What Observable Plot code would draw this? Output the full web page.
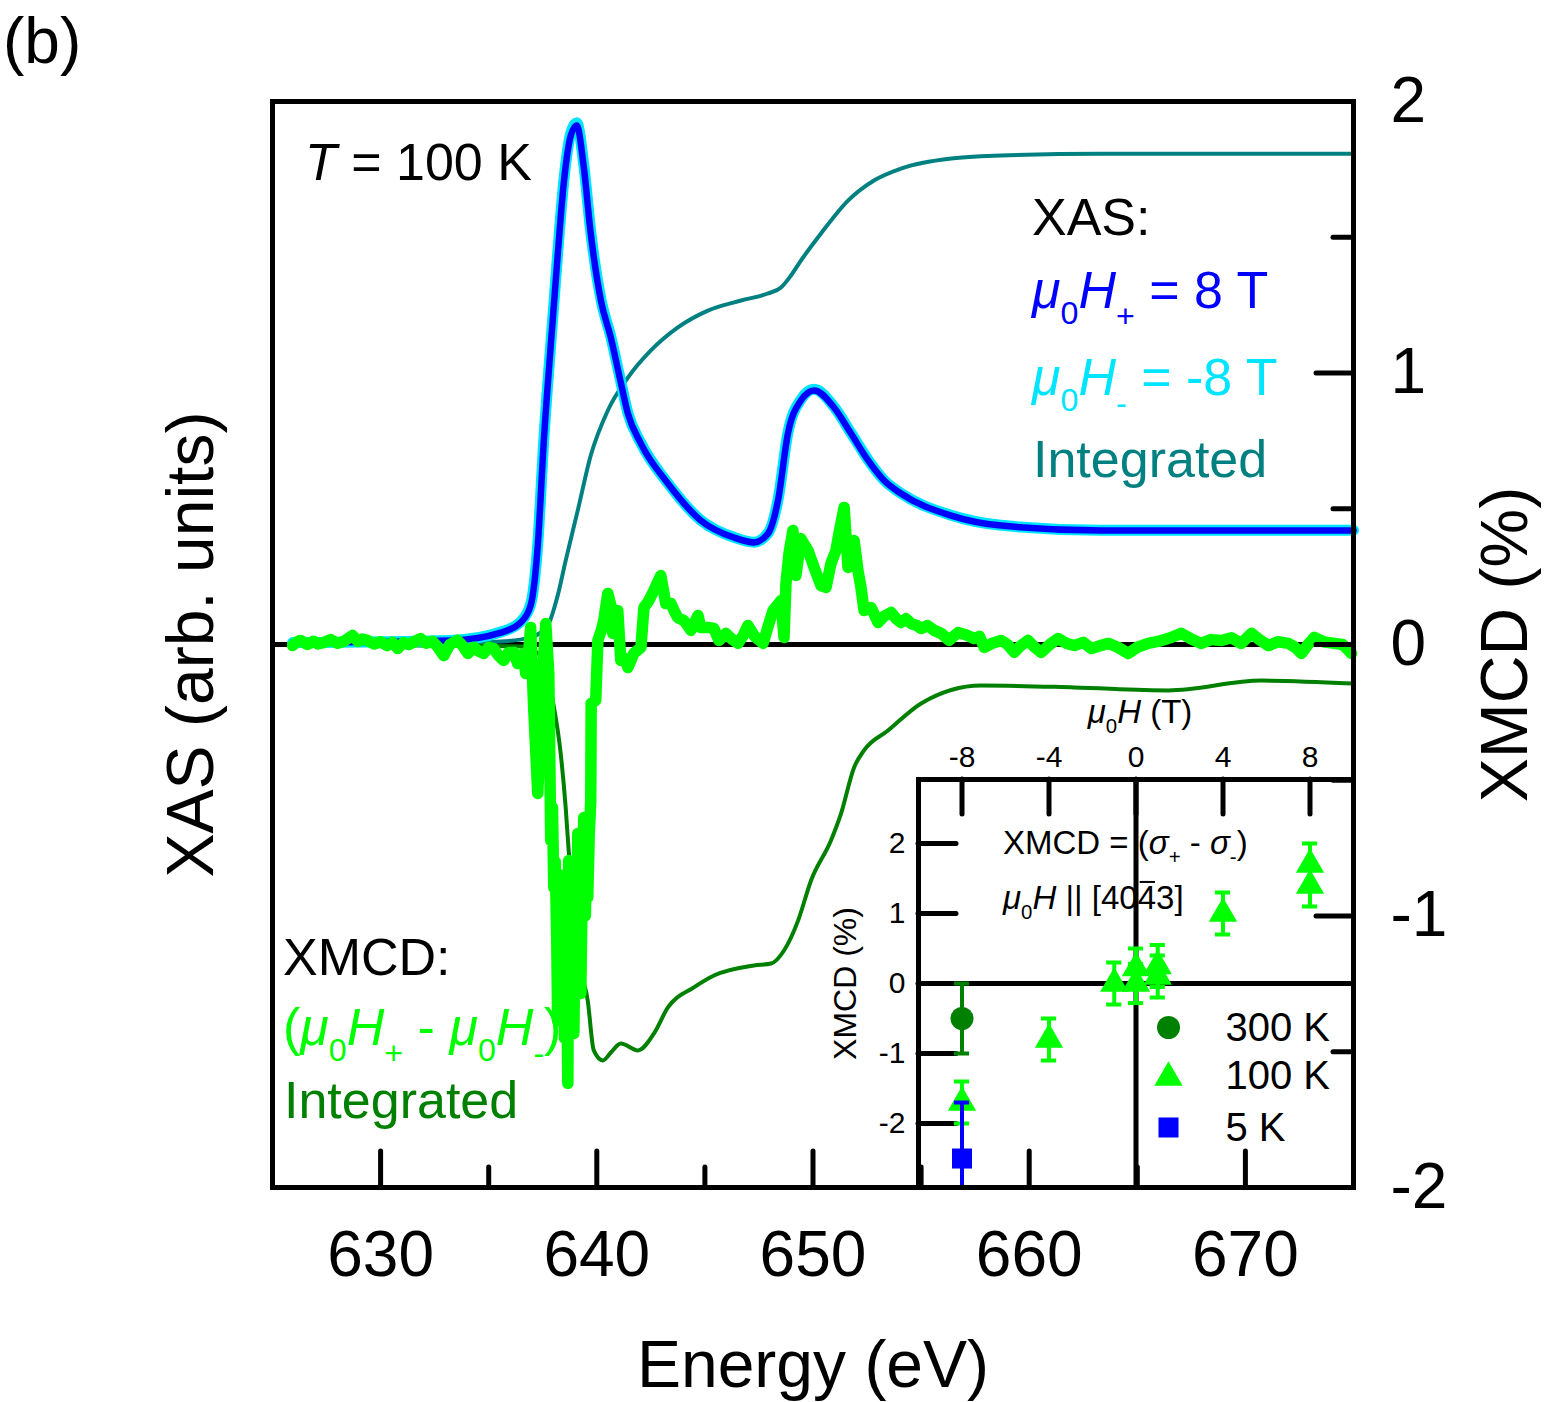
<!DOCTYPE html>
<html>
<head>
<meta charset="utf-8">
<script src="https://cdn.jsdelivr.net/npm/d3@7"></script>
<script src="https://cdn.jsdelivr.net/npm/@observablehq/plot@0.6"></script>
<style>
html, body { margin: 0; padding: 0; background: #fff; }
#wrap { position: relative; width: 1545px; height: 1402px; overflow: hidden; background: #fff; }
#wrap svg { position: absolute; left: 0; top: 0; }
</style>
</head>
<body>
<div id="wrap"></div>
<script>
const FONT = "'Liberation Sans', Arial, Helvetica, sans-serif";

// ---------- main panel data: [energy (eV), value] ----------
const energyDomain = [625, 675];
const xmcdDomain = [-2, 2];
const energyTicks = [630, 640, 650, 660, 670];
const energyMinorTicks = [635, 645, 655, 665];
const xmcdTicks = [2, 1, 0, -1, -2];
const xmcdMajorInner = [1, 0, -1];
const xmcdMinorTicks = [1.5, 0.5, -0.5, -1.5];

const xasPlus = [
  [625.93,0.007],[633.24,0.015],[635.56,0.044],[636.48,0.081],[636.94,0.144],[637.27,0.365],
  [637.55,0.751],[637.87,1.101],[638.19,1.433],[638.47,1.698],[638.80,1.875],[639.07,1.912],
  [639.40,1.757],[639.72,1.514],[640.19,1.267],[640.65,1.130],[641.11,0.965],[641.44,0.850],
  [642.04,0.740],[643.29,0.593],[644.81,0.457],[646.34,0.394],[647.27,0.376],[647.92,0.409],
  [648.38,0.530],[648.84,0.777],[649.44,0.899],[650.05,0.936],[650.97,0.873],[651.76,0.777],
  [652.55,0.678],[653.29,0.604],[654.07,0.556],[656.39,0.475],[658.70,0.438],[663.33,0.420],[675.00,0.420]
];
const xasMinus = [
  [625.93,0.007],[633.24,0.015],[635.56,0.046],[636.48,0.084],[636.94,0.148],[637.27,0.370],
  [637.55,0.756],[637.87,1.106],[638.19,1.440],[638.47,1.705],[638.80,1.885],[639.07,1.922],
  [639.40,1.765],[639.72,1.520],[640.19,1.272],[640.65,1.133],[641.11,0.968],[641.44,0.852],
  [642.04,0.742],[643.29,0.594],[644.81,0.458],[646.34,0.395],[647.27,0.377],[647.92,0.410],
  [648.38,0.532],[648.84,0.780],[649.44,0.902],[650.05,0.940],[650.97,0.876],[651.76,0.779],
  [652.55,0.680],[653.29,0.605],[654.07,0.557],[656.39,0.476],[658.70,0.439],[663.33,0.421],[675.00,0.421]
];
const xasIntegrated = [
  [625.93,0.004],[633.24,0.007],[635.56,0.011],[636.94,0.026],[637.73,0.070],[638.19,0.180],
  [638.56,0.309],[639.12,0.494],[639.72,0.696],[640.51,0.862],[641.44,0.983],[642.50,1.083],
  [643.75,1.168],[645.14,1.230],[646.67,1.267],[647.92,1.293],[648.52,1.315],[648.98,1.359],
  [649.44,1.414],[650.37,1.514],[651.62,1.635],[652.82,1.709],[654.07,1.753],[656.39,1.790],
  [658.70,1.801],[663.33,1.808],[675.00,1.808]
];
const xmcdSpectrum = [
  [625.93,-0.004],[626.15,0.010],[626.30,0.015],[626.60,0.000],[626.90,0.012],[627.10,0.002],
  [627.36,0.007],[627.70,0.018],[628.00,0.004],[628.30,0.012],[628.70,0.033],[628.95,0.012],
  [629.15,0.020],[629.40,0.015],[629.70,0.002],[630.00,0.010],[630.30,-0.004],[630.55,0.008],
  [630.79,-0.015],[631.06,0.007],[631.30,0.000],[631.60,0.012],[631.85,0.022],[632.10,0.005],
  [632.40,0.012],[632.65,-0.010],[632.92,-0.041],[633.20,0.000],[633.56,0.015],[633.80,-0.005],
  [634.03,-0.033],[634.30,-0.010],[634.55,-0.025],[634.77,-0.033],[635.00,-0.010],[635.23,-0.015],
  [635.45,-0.040],[635.69,-0.059],[635.90,-0.030],[636.16,-0.029],[636.34,-0.070],[636.48,-0.040],
  [636.62,-0.033],[636.71,-0.107],[636.82,-0.050],[636.94,0.063],[637.08,-0.232],[637.27,-0.549],
  [637.40,-0.300],[637.50,-0.096],[637.64,0.077],[637.78,-0.107],[637.87,-0.722],[637.95,-0.600],
  [638.01,-0.895],[638.08,-0.800],[638.15,-1.100],[638.19,-1.385],[638.25,-1.000],[638.30,-1.250],
  [638.36,-0.850],[638.43,-1.050],[638.50,-1.450],[638.56,-0.950],[638.62,-1.300],[638.66,-1.617],
  [638.70,-0.796],[638.76,-1.200],[638.82,-0.900],[638.88,-1.350],[638.94,-1.433],[639.00,-0.950],
  [639.06,-1.250],[639.12,-0.696],[639.19,-1.100],[639.26,-1.285],[639.33,-0.850],[639.40,-0.637],
  [639.47,-1.000],[639.52,-0.800],[639.58,-0.932],[639.65,-0.700],[639.72,-0.575],[639.74,-0.217],
  [639.95,-0.206],[640.05,0.015],[640.20,0.050],[640.32,0.088],[640.51,0.188],[640.65,0.144],
  [640.74,0.041],[640.97,0.125],[641.11,-0.059],[641.28,-0.050],[641.44,-0.085],[641.71,-0.033],
  [642.04,-0.011],[642.18,0.136],[642.41,0.162],[642.64,0.199],[642.96,0.254],[643.19,0.151],
  [643.43,0.151],[643.60,0.120],[643.75,0.099],[644.03,0.088],[644.20,0.070],[644.35,0.052],
  [644.68,0.107],[644.81,0.063],[645.14,0.063],[645.42,0.059],[645.65,0.015],[645.97,0.041],
  [646.25,0.020],[646.53,0.004],[646.75,0.030],[646.99,0.070],[647.30,0.030],[647.69,0.004],
  [647.90,0.060],[648.15,0.125],[648.52,0.162],[648.66,0.026],[648.75,0.225],[648.89,0.335],
  [649.07,0.420],[649.21,0.254],[649.44,0.390],[649.77,0.346],[650.05,0.284],[650.37,0.217],
  [650.60,0.210],[650.83,0.298],[651.06,0.346],[651.20,0.409],[651.44,0.505],[651.62,0.284],
  [651.90,0.383],[652.08,0.273],[652.22,0.210],[652.36,0.125],[652.69,0.136],[653.01,0.081],
  [653.30,0.105],[653.61,0.118],[653.85,0.095],[654.07,0.081],[654.30,0.095],[654.54,0.077],
  [654.80,0.070],[655.00,0.059],[655.30,0.070],[655.60,0.052],[655.95,0.040],[656.30,0.015],
  [656.50,0.030],[656.71,0.044],[657.10,0.035],[657.45,0.022],[657.70,0.030],[657.92,-0.011],
  [658.30,0.005],[658.70,0.015],[659.00,0.000],[659.31,-0.029],[659.60,-0.005],[659.95,0.015],
  [660.25,-0.010],[660.56,-0.029],[660.95,0.000],[661.34,0.022],[661.70,0.005],[662.08,-0.004],
  [662.50,0.008],[662.87,-0.015],[663.25,-0.005],[663.66,0.004],[664.10,-0.010],[664.58,-0.033],
  [665.00,-0.010],[665.51,0.004],[666.00,0.012],[666.57,0.026],[667.04,0.041],[667.50,0.020],
  [667.96,0.004],[668.40,0.018],[668.89,0.015],[669.35,0.025],[669.81,0.004],[670.28,0.041],
  [670.70,0.015],[671.07,-0.004],[671.50,0.010],[671.99,0.004],[672.30,-0.010],[672.59,-0.033],
  [672.90,0.000],[673.19,0.026],[673.60,0.010],[674.12,0.004],[674.50,0.000],[674.91,-0.033]
];
const xmcdIntegrated = [
  [625.93,0.000],[636.48,-0.007],[637.41,-0.041],[637.73,-0.114],[637.96,-0.206],[638.33,-0.401],
  [638.56,-0.600],[638.70,-0.759],[638.98,-0.980],[639.26,-1.190],[639.58,-1.311],[639.86,-1.495],
  [640.28,-1.532],[640.65,-1.503],[641.11,-1.470],[641.90,-1.495],[642.64,-1.433],[643.29,-1.337],
  [644.49,-1.263],[645.42,-1.219],[647.27,-1.182],[648.06,-1.175],[648.66,-1.127],[649.31,-1.017],
  [649.91,-0.869],[650.83,-0.722],[651.30,-0.622],[651.90,-0.453],[652.36,-0.390],[653.47,-0.317],
  [655.00,-0.217],[657.78,-0.151],[662.08,-0.158],[666.44,-0.169],[670.74,-0.133],[674.91,-0.144]
];

// ---------- inset data ----------
const fieldDomain = [-10, 10];
const insetDomain = [-2.914, 2.914];
const fieldTicks = [-8, -4, 0, 4, 8];
const insetTicks = [2, 1, 0, -1, -2];
const field300K = [-8];
const xmcd300K = [-0.5];
const err300K = [0.5];
const field100K = [-8, -4, -1, 0, 0, 1, 1, 4, 8, 8];
const xmcd100K = [-1.7, -0.8, 0.0, 0.22, 0.0, 0.25, 0.1, 1.0, 1.7, 1.4];
const err100K = [0.3, 0.3, 0.3, 0.28, 0.28, 0.3, 0.3, 0.3, 0.3, 0.3];
const field5K = [-8];
const xmcd5K = [-2.5];
const err5K = [0.8];

const C = {
  blue: "#0000ff", cyan: "#00e5ff", teal: "#008080",
  lime: "#00ff00", dkgreen: "#008000", black: "#000"
};

const W = 1545, H = 1402;
const main = {left: 272, right: 1353, top: 101, bottom: 1187};
const ins = {left: 918, right: 1353, top: 779, bottom: 1187};

function mainPlot(marks) {
  return Plot.plot({
    width: W, height: H,
    marginLeft: main.left, marginRight: W - main.right, marginTop: main.top, marginBottom: H - main.bottom,
    x: {domain: energyDomain, axis: null},
    y: {domain: xmcdDomain, axis: null},
    style: {background: "transparent", fontFamily: FONT, overflow: "visible"},
    marks
  });
}

const wrap = document.getElementById("wrap");

// Layer 1: curves
const layer1 = mainPlot([
  Plot.ruleY([0], {stroke: C.black, strokeWidth: 5}),
  Plot.line(xasIntegrated, {x: d => d[0], y: d => d[1], stroke: C.teal, strokeWidth: 4, curve: "monotone-x"}),
  Plot.line(xmcdIntegrated, {x: d => d[0], y: d => d[1], stroke: C.dkgreen, strokeWidth: 4, curve: "monotone-x"}),
  Plot.line(xasMinus, {x: d => d[0], y: d => d[1], stroke: C.cyan, strokeWidth: 11, curve: "monotone-x", strokeLinejoin: "round", strokeLinecap: "round"}),
  Plot.line(xasPlus, {x: d => d[0], y: d => d[1], stroke: C.blue, strokeWidth: 6.5, curve: "monotone-x", strokeLinejoin: "round", strokeLinecap: "round"}),
  Plot.line(xmcdSpectrum, {x: d => d[0], y: d => d[1], stroke: C.lime, strokeWidth: 11.5, strokeLinejoin: "round", strokeLinecap: "round"})
]);
wrap.appendChild(layer1);

// Layer 2: inset
const rows = (Hs, vs, es, series) => Hs.map((h, i) => ({H: h, v: vs[i], e: es[i], series}));
const d300 = rows(field300K, xmcd300K, err300K, "300 K");
const d100 = rows(field100K, xmcd100K, err100K, "100 K");
const d5 = rows(field5K, xmcd5K, err5K, "5 K");
const CAP = 0.35;
function errorBars(data, color) {
  return [
    Plot.ruleX(data, {x: "H", y1: d => d.v - d.e, y2: d => d.v + d.e, stroke: color, strokeWidth: 4, clip: true}),
    Plot.ruleY(data, {y: d => d.v + d.e, x1: d => d.H - CAP, x2: d => d.H + CAP, stroke: color, strokeWidth: 4, clip: true}),
    Plot.ruleY(data, {y: d => d.v - d.e, x1: d => d.H - CAP, x2: d => d.H + CAP, stroke: color, strokeWidth: 4, clip: true})
  ];
}
const legendItems = [
  {label: "300 K", symbol: "circle", color: C.dkgreen, r: 11.5, dy: -160, tdy: -159},
  {label: "100 K", symbol: "triangle", color: C.lime, r: 10.5, dy: -110, tdy: -111},
  {label: "5 K", symbol: "square", color: C.blue, r: 11.3, dy: -60, tdy: -59}
];
const layer2 = Plot.plot({
  width: W, height: H,
  marginLeft: ins.left, marginRight: W - ins.right, marginTop: ins.top, marginBottom: H - ins.bottom,
  x: {domain: fieldDomain, axis: null},
  y: {domain: insetDomain, axis: null},
  style: {background: "transparent", fontFamily: FONT, overflow: "visible"},
  marks: [
    Plot.frame({fill: "white", stroke: null}),
    Plot.ruleY([0], {stroke: C.black, strokeWidth: 5}),
    Plot.ruleX([0], {stroke: C.black, strokeWidth: 5}),
    Plot.ruleX(fieldTicks, {x: d => d, y1: insetDomain[1], y2: insetDomain[1], insetBottom: -35, stroke: C.black, strokeWidth: 5, strokeLinecap: "round"}),
    Plot.ruleY(insetTicks, {y: d => d, x1: fieldDomain[0], x2: fieldDomain[0], insetRight: -38, stroke: C.black, strokeWidth: 5, strokeLinecap: "round"}),
    ...errorBars(d300, C.dkgreen),
    Plot.dot(d300, {x: "H", y: "v", symbol: "circle", r: 11.5, fill: C.dkgreen, stroke: null}),
    ...errorBars(d100, C.lime),
    Plot.dot(d100, {x: "H", y: "v", symbol: "triangle", r: 10.5, fill: C.lime, stroke: null}),
    ...errorBars(d5, C.blue),
    Plot.dot(d5, {x: "H", y: "v", symbol: "square", r: 11.3, fill: C.blue, stroke: null}),
    ...legendItems.map(it => Plot.dot([it], {frameAnchor: "bottom-left", dx: 250, dy: it.dy, symbol: it.symbol, r: it.r, fill: it.color, stroke: null})),
    ...legendItems.map(it => Plot.text([it], {frameAnchor: "bottom-left", dx: 307, dy: it.tdy, text: "label", textAnchor: "start", lineAnchor: "middle", fontSize: 40, fill: C.black})),
    Plot.frame({stroke: C.black, strokeWidth: 5}),
    Plot.text(fieldTicks, {x: d => d, frameAnchor: "top", lineAnchor: "middle", dy: -22, text: d => String(d), fontSize: 30, fill: C.black}),
    Plot.text(insetTicks, {y: d => d, frameAnchor: "left", textAnchor: "end", lineAnchor: "middle", dx: -13, text: d => String(d), fontSize: 30, fill: C.black}),
    Plot.text(["XMCD (%)"], {frameAnchor: "left", rotate: -90, textAnchor: "middle", lineAnchor: "middle", dx: -73, fontSize: 32, fill: C.black})
  ]
});
wrap.appendChild(layer2);

// Layer 3: main frame, ticks, labels
const layer3 = mainPlot([
  Plot.frame({stroke: C.black, strokeWidth: 5}),
  Plot.ruleX(energyTicks, {x: d => d, y1: xmcdDomain[0], y2: xmcdDomain[0], insetTop: -36, stroke: C.black, strokeWidth: 5, strokeLinecap: "round"}),
  Plot.ruleX(energyMinorTicks, {x: d => d, y1: xmcdDomain[0], y2: xmcdDomain[0], insetTop: -20, stroke: C.black, strokeWidth: 5, strokeLinecap: "round"}),
  Plot.ruleY(xmcdMajorInner, {y: d => d, x1: energyDomain[1], x2: energyDomain[1], insetLeft: -37, stroke: C.black, strokeWidth: 5, strokeLinecap: "round"}),
  Plot.ruleY(xmcdMinorTicks, {y: d => d, x1: energyDomain[1], x2: energyDomain[1], insetLeft: -20, stroke: C.black, strokeWidth: 5, strokeLinecap: "round"}),
  Plot.text(energyTicks, {x: d => d, frameAnchor: "bottom", lineAnchor: "middle", dy: 68, text: d => String(d), fontSize: 64, fill: C.black}),
  Plot.text(xmcdTicks, {y: d => d, frameAnchor: "right", textAnchor: "start", lineAnchor: "middle", dx: 37, text: d => String(d), fontSize: 64, fill: C.black}),
  Plot.text(["Energy (eV)"], {frameAnchor: "bottom", lineAnchor: "middle", dy: 178, fontSize: 66, fill: C.black}),
  Plot.text(["XAS (arb. units)"], {frameAnchor: "left", rotate: -90, textAnchor: "middle", lineAnchor: "middle", dx: -81, fontSize: 66, fill: C.black}),
  Plot.text(["XMCD (%)"], {frameAnchor: "right", rotate: -90, textAnchor: "middle", lineAnchor: "middle", dx: 152, fontSize: 66, fill: C.black})
]);
wrap.appendChild(layer3);

// rich text annotations
function rich(svg, x, y, parts, size, color, anchor = "start") {
  const t = d3.select(svg).append("text")
    .attr("x", x).attr("y", y)
    .attr("font-family", FONT).attr("font-size", size)
    .attr("fill", color).attr("text-anchor", anchor);
  let shift = 0;
  for (const p of parts) {
    const s = t.append("tspan").text(p.t);
    const target = p.sub ? size * p.sub : 0;
    if (target !== shift) { s.attr("dy", target - shift); shift = target; }
    if (p.sub) s.attr("font-size", size * (p.scale || 0.62));
    if (p.i) s.attr("font-style", "italic");
  }
  return t;
}
const mu0 = (sign) => {
  const a = [{t: "μ", i: 1}, {t: "0", sub: 0.3}, {t: "H", i: 1}];
  if (sign) a.push({t: sign, sub: 0.36});
  return a;
};

rich(layer3, 3, 63, [{t: "(b)"}], 64, C.black);
rich(layer3, 305, 180, [{t: "T", i: 1}, {t: " = 100 K"}], 52, C.black);
rich(layer3, 1032, 235, [{t: "XAS:"}], 52, C.black);
rich(layer3, 1032, 308, [...mu0("+"), {t: " = 8 T"}], 52, C.blue);
rich(layer3, 1032, 395, [...mu0("-"), {t: " = -8 T"}], 52, C.cyan);
rich(layer3, 1033, 477, [{t: "Integrated"}], 52, C.teal);
rich(layer3, 283, 975, [{t: "XMCD:"}], 52, C.black);
rich(layer3, 283, 1045, [{t: "("}, ...mu0("+"), {t: " - "}, ...mu0("-"), {t: ")"}], 52, C.lime);
rich(layer3, 284, 1118, [{t: "Integrated"}], 52, C.dkgreen);

rich(layer3, 1140, 723, [...mu0(""), {t: " (T)"}], 33, C.black, "middle");
rich(layer3, 1003, 854, [{t: "XMCD = ("}, {t: "σ", i: 1}, {t: "+", sub: 0.3}, {t: " - "}, {t: "σ", i: 1}, {t: "-", sub: 0.3}, {t: ")"}], 33, C.black);
const dirText = rich(layer3, 1003, 909, [...mu0(""), {t: " || [40"}, {t: "4"}, {t: "3]"}], 33, C.black);
// overbar above the barred Miller index digit (drawn as a line, not text)
{
  const node = dirText.node();
  const idx = "μ0H || [40".length;
  const a = node.getStartPositionOfChar(idx), b = node.getEndPositionOfChar(idx);
  d3.select(layer3).append("line")
    .attr("x1", a.x + 2).attr("x2", b.x - 1)
    .attr("y1", 909 - 33 * 0.82).attr("y2", 909 - 33 * 0.82)
    .attr("stroke", C.black).attr("stroke-width", 2);
}
</script>
</body>
</html>
